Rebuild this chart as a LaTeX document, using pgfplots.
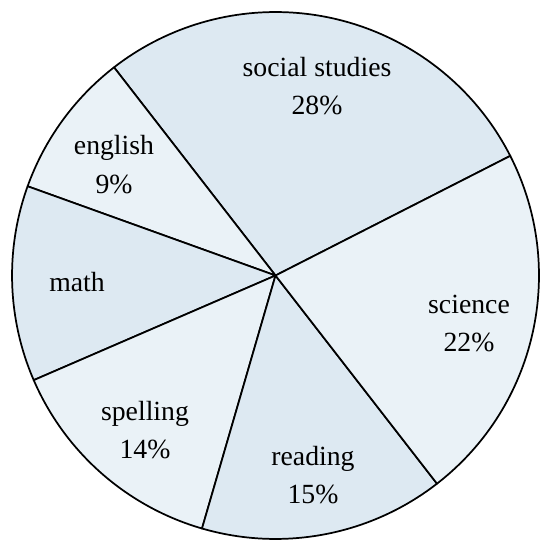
\documentclass[border=0pt]{standalone}
\usepackage{fontspec}
\setmainfont{Liberation Serif}
\newfontfamily\labelfont{Liberation Serif}
\usepackage{pgfplots}
\usepackage{pgfplotstable}
\pgfplotsset{compat=1.18}

\definecolor{pieDark}{HTML}{DDE9F2}
\definecolor{pieLight}{HTML}{EAF2F7}

% slices counterclockwise from 27 degrees; lx/ly = label base point (axis units)
\pgfplotstableread{
name              pct  show  shade     lx    ly
{social studies}  28   1     pieDark   317   463
english           9    1     pieLight  114   385
math              12   0     pieDark   77    248.3
spelling          14   1     pieLight  145   120
reading           15   1     pieDark   313   74.3
science           22   1     pieLight  469   227
}\piedata

\begin{document}
\begin{tikzpicture}
\begin{axis}[
    hide axis,
    x=0.75pt, y=0.75pt,
    xmin=0, xmax=542, ymin=0, ymax=540,
    clip=false,
]
\coordinate (bbsw) at (axis cs:0,0);
\coordinate (bbne) at (axis cs:542,540);
\pgfplotstablegetrowsof{\piedata}
\pgfmathtruncatemacro\nlast{\pgfplotsretval-1}
\def\acc{27}
\pgfplotsforeachungrouped \i in {0,...,\nlast}{%
  \pgfplotstablegetelem{\i}{pct}\of\piedata \let\p\pgfplotsretval
  \pgfplotstablegetelem{\i}{shade}\of\piedata \let\sh\pgfplotsretval
  \pgfmathsetmacro\aend{\acc+3.6*\p}
  \edef\tmp{\noexpand\filldraw[fill=\sh, draw=black, line width=1.3pt, line join=round]
    (axis cs:275.5,264.5) -- ++(\acc:197.6pt)
    arc[start angle=\acc, end angle=\aend, radius=197.6pt] -- cycle;}
  \tmp
  \global\let\acc\aend
}
\pgfplotsforeachungrouped \i in {0,...,\nlast}{%
  \pgfplotstablegetelem{\i}{name}\of\piedata \let\nm\pgfplotsretval
  \pgfplotstablegetelem{\i}{pct}\of\piedata \let\p\pgfplotsretval
  \pgfplotstablegetelem{\i}{show}\of\piedata \let\sw\pgfplotsretval
  \pgfplotstablegetelem{\i}{lx}\of\piedata \let\lx\pgfplotsretval
  \pgfplotstablegetelem{\i}{ly}\of\piedata \let\ly\pgfplotsretval
  \pgfmathsetmacro\lyb{\ly-38}
  \edef\tmp{\noexpand\node[anchor=base, inner sep=0pt, font=\noexpand\labelfont\noexpand\fontsize{20.8}{24}\noexpand\selectfont]
    at (axis cs:\lx,\ly) {\nm};}
  \tmp
  \ifnum\sw=1
    \edef\tmp{\noexpand\node[anchor=base, inner sep=0pt, font=\noexpand\labelfont\noexpand\fontsize{20.8}{24}\noexpand\selectfont]
      at (axis cs:\lx,\lyb) {\p\noexpand\%};}
    \tmp
  \fi
}
\end{axis}
\pgfresetboundingbox
\path[use as bounding box] (bbsw) rectangle (bbne);
\end{tikzpicture}
\end{document}
